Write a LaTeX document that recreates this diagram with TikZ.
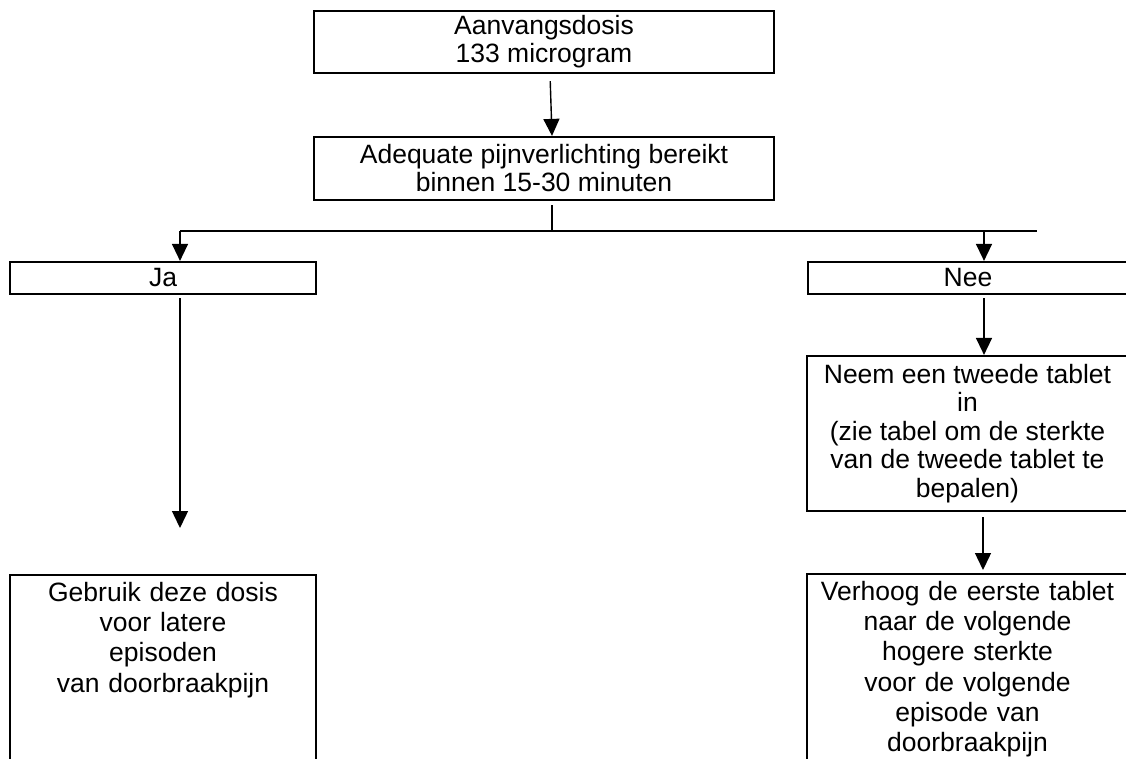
\documentclass[tikz,border=0pt]{standalone}
\usepackage{fontspec}
\setmainfont{Liberation Sans}
\usetikzlibrary{arrows.meta}

\begin{document}
\begin{tikzpicture}[
  x=1pt, y=-1pt,
  box/.style={draw, line width=2.2pt, inner sep=0pt, align=center, font=\fontsize{26.5}{28}\selectfont},
  tallbox/.style={draw, line width=2.2pt, anchor=north, inner xsep=6pt, inner ysep=7pt, align=center,
    text height=19pt, text depth=260pt, font=\fontsize{26.5}{30.3}\selectfont},
  line/.style={line width=1.4pt},
  arrow/.style={line width=1.4pt, -{Triangle[width=16pt,length=17pt]}}
]
\path[use as bounding box, clip] (0,0) rectangle (1126,758);

\node[box, minimum width=460pt, minimum height=62pt] (start) at (544,42) {Aanvangsdosis\\133 microgram};
\node[box, minimum width=460pt, minimum height=63pt] (adeq) at (544,168.5) {Adequate pijnverlichting bereikt\\binnen 15-30 minuten};
\node[box, minimum width=306pt, minimum height=32pt] (ja) at (163,278) {Ja};
\node[box, minimum width=320pt, minimum height=32pt] (nee) at (968,278) {Nee};
\node[box, minimum width=321pt, minimum height=155pt, font=\fontsize{26.5}{28.5}\selectfont] (neem) at (967.5,433.5)
  {Neem een tweede tablet\\in\\(zie tabel om de sterkte\\van de tweede tablet te\\bepalen)};
\node[tallbox, text width=294pt] (gebruik) at (163,574)
  {Gebruik deze dosis\\voor latere\\episoden\\van doorbraakpijn};
\node[tallbox, text width=309pt] (verhoog) at (967.5,573)
  {Verhoog de eerste tablet\\naar de volgende\\hogere sterkte\\voor de volgende\\episode van\\doorbraakpijn};

\coordinate (split) at (552,231);
\coordinate (lend) at (180,231);
\coordinate (rend) at (1037,231);
\coordinate (nbr) at (984,231);

\draw[arrow, shorten <=7pt] ([xshift=6pt]start.south) -- ([xshift=8pt]adeq.north);
\draw[line, shorten <=4pt] (split |- adeq.south) -- (split);
\draw[line] (lend) -- (rend);
\draw[arrow] (lend) -- (lend |- ja.north);
\draw[arrow] (nbr) -- (nbr |- nee.north);
\draw[arrow, shorten <=3pt, shorten >=46pt] (lend |- ja.south) -- (lend |- gebruik.north);
\draw[arrow, shorten <=3pt] (nbr |- nee.south) -- (nbr |- neem.north);
\draw[arrow, shorten <=5pt, shorten >=3pt] ([xshift=15.5pt]neem.south) -- ([xshift=15.5pt]verhoog.north);
\end{tikzpicture}
\end{document}
